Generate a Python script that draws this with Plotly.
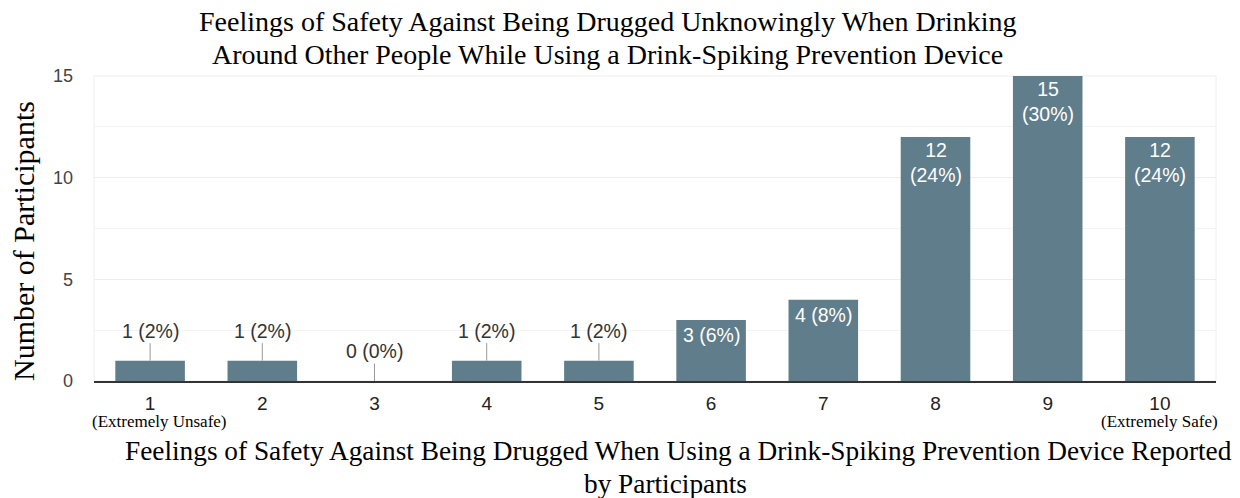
import plotly.graph_objects as go

categories = ["1", "2", "3", "4", "5", "6", "7", "8", "9", "10"]
counts = [1, 1, 0, 1, 1, 3, 4, 12, 15, 12]
percents = [2, 2, 0, 2, 2, 6, 8, 24, 30, 24]
sub_labels = {"1": "(Extremely Unsafe)", "10": "(Extremely Safe)"}
y_ticks = [0, 5, 10, 15]

title_lines = ["Feelings of Safety Against Being Drugged Unknowingly When Drinking",
               "Around Other People While Using a Drink-Spiking Prevention Device"]
x_title_lines = ["Feelings of Safety Against Being Drugged When Using a Drink-Spiking Prevention Device Reported",
                 "by Participants"]
y_title = "Number of Participants"

BAR = "#607d8b"
SERIF = "Liberation Serif, Times New Roman, serif"
SANS = "Liberation Sans, Arial, sans-serif"

fig = go.Figure()
fig.add_trace(go.Bar(x=list(range(len(categories))), y=counts,
                     marker=dict(color=BAR, line=dict(width=0)),
                     width=0.62, hoverinfo="skip"))

annotations = []
for i, (v, p) in enumerate(zip(counts, percents)):
    if v <= 1:
        annotations.append(dict(x=i, y=v, xref="x", yref="y", text=f"{v} ({p}%)",
                                showarrow=True, arrowhead=0, arrowwidth=1, arrowcolor="#999999",
                                ax=0, ay=-30, standoff=0,
                                font=dict(family=SANS, size=19.5, color="#333333")))
    elif v < 10:
        annotations.append(dict(x=i, y=v, xref="x", yref="y", text=f"{v} ({p}%)",
                                showarrow=False, yanchor="top", yshift=-2,
                                font=dict(family=SANS, size=19.5, color="white")))
    else:
        annotations.append(dict(x=i, y=v, xref="x", yref="y", text=f"{v}<br>({p}%)",
                                showarrow=False, yanchor="top", yshift=0,
                                font=dict(family=SANS, size=19.5, color="white")))

for c, s in sub_labels.items():
    i = categories.index(c)
    annotations.append(dict(x=i, y=0, xref="x", yref="paper", text=s, showarrow=False,
                            yanchor="middle", yshift=-40, xshift=9 if i == 0 else 0,
                            font=dict(family=SERIF, size=17, color="black")))


def py(page_y):
    return (381 - page_y) / 305


def px(page_x):
    return (page_x - 94) / 1122


for line, yy in zip(title_lines, [21, 54]):
    annotations.append(dict(x=px(607.5), y=py(yy), xref="paper", yref="paper", text=line,
                            showarrow=False, yanchor="middle", xanchor="center",
                            font=dict(family=SERIF, size=28, color="black")))
for line, xx, yy in zip(x_title_lines, [678.5, 665], [451, 484]):
    annotations.append(dict(x=px(xx), y=py(yy), xref="paper", yref="paper", text=line,
                            showarrow=False, yanchor="middle", xanchor="center",
                            font=dict(family=SERIF, size=27.3, color="black")))
annotations.append(dict(x=px(24), y=py(241), xref="paper", yref="paper", text=y_title,
                        showarrow=False, textangle=-90, xanchor="center", yanchor="middle",
                        font=dict(family=SERIF, size=30, color="black")))

fig.update_layout(
    width=1240, height=498,
    margin=dict(l=94, r=24, t=76, b=117),
    paper_bgcolor="white", plot_bgcolor="white",
    showlegend=False,
    annotations=annotations,
    shapes=[dict(type="rect", xref="x domain", yref="y domain", x0=0, x1=1, y0=0, y1=1,
                 line=dict(color="#eeeeee", width=1), layer="below")],
)
fig.update_xaxes(range=[-0.5, 9.5], tickvals=list(range(len(categories))), ticktext=categories,
                 showgrid=False, showline=True, linecolor="#333333",
                 linewidth=1.5, ticks="", tickfont=dict(family=SANS, size=19, color="#222222"),
                 ticklabelstandoff=4)
fig.update_yaxes(range=[0, 15], tickvals=y_ticks, showgrid=True, gridcolor="#eeeeee",
                 minor=dict(dtick=2.5, showgrid=True, gridcolor="#f3f3f3"),
                 zeroline=False, showline=False, ticks="",
                 tickfont=dict(family=SANS, size=18, color="#444444"), ticklabelstandoff=20)

fig.write_html("out.html")
